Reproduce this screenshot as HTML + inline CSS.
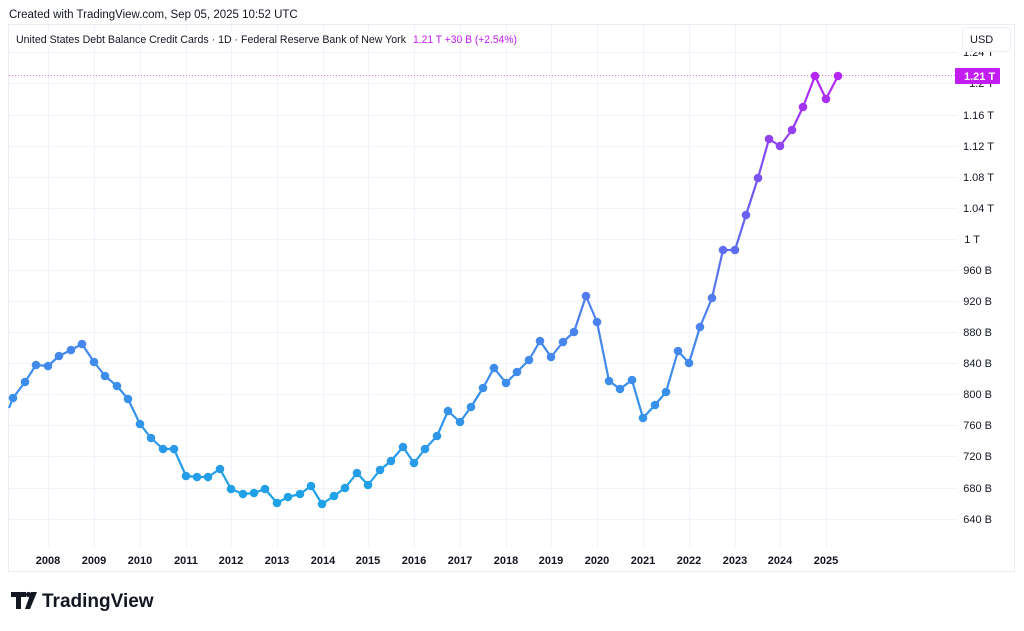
<!DOCTYPE html>
<html><head><meta charset="utf-8"><style>
body{margin:0;background:#fff;width:1024px;height:626px;overflow:hidden;font-family:"Liberation Sans",sans-serif}
</style></head><body>
<svg width="1024" height="626" xmlns="http://www.w3.org/2000/svg" font-family="Liberation Sans, sans-serif">
<defs>
<linearGradient id="g" gradientUnits="userSpaceOnUse" x1="0" y1="500" x2="0" y2="76">
<stop offset="0" stop-color="#1ea2e8"/>
<stop offset="0.45" stop-color="#4f80ee"/>
<stop offset="0.7" stop-color="#6b5ef0"/>
<stop offset="1" stop-color="#b626f2"/>
</linearGradient>
</defs>
<rect x="0" y="0" width="1024" height="626" fill="#fff"/>
<text x="9" y="18" font-size="11.5" fill="#131722">Created with TradingView.com, Sep 05, 2025 10:52 UTC</text>
<rect x="8.5" y="24.5" width="1006" height="547" fill="none" stroke="#e9ecf2"/>
<g stroke="#f0f3fa" stroke-width="1">
<line x1="9" x2="958" y1="52.5" y2="52.5"/>
<line x1="9" x2="958" y1="83.5" y2="83.5"/>
<line x1="9" x2="958" y1="115.5" y2="115.5"/>
<line x1="9" x2="958" y1="146.5" y2="146.5"/>
<line x1="9" x2="958" y1="177.5" y2="177.5"/>
<line x1="9" x2="958" y1="208.5" y2="208.5"/>
<line x1="9" x2="958" y1="239.5" y2="239.5"/>
<line x1="9" x2="958" y1="270.5" y2="270.5"/>
<line x1="9" x2="958" y1="301.5" y2="301.5"/>
<line x1="9" x2="958" y1="332.5" y2="332.5"/>
<line x1="9" x2="958" y1="363.5" y2="363.5"/>
<line x1="9" x2="958" y1="394.5" y2="394.5"/>
<line x1="9" x2="958" y1="425.5" y2="425.5"/>
<line x1="9" x2="958" y1="456.5" y2="456.5"/>
<line x1="9" x2="958" y1="488.5" y2="488.5"/>
<line x1="9" x2="958" y1="519.5" y2="519.5"/>
<line x1="48.5" x2="48.5" y1="25" y2="547"/><line x1="94.5" x2="94.5" y1="25" y2="547"/>
<line x1="140.5" x2="140.5" y1="25" y2="547"/><line x1="186.5" x2="186.5" y1="25" y2="547"/>
<line x1="231.5" x2="231.5" y1="25" y2="547"/><line x1="277.5" x2="277.5" y1="25" y2="547"/>
<line x1="323.5" x2="323.5" y1="25" y2="547"/><line x1="368.5" x2="368.5" y1="25" y2="547"/>
<line x1="414.5" x2="414.5" y1="25" y2="547"/><line x1="460.5" x2="460.5" y1="25" y2="547"/>
<line x1="506.5" x2="506.5" y1="25" y2="547"/><line x1="551.5" x2="551.5" y1="25" y2="547"/>
<line x1="597.5" x2="597.5" y1="25" y2="547"/><line x1="643.5" x2="643.5" y1="25" y2="547"/>
<line x1="689.5" x2="689.5" y1="25" y2="547"/><line x1="735.5" x2="735.5" y1="25" y2="547"/>
<line x1="780.5" x2="780.5" y1="25" y2="547"/><line x1="826.5" x2="826.5" y1="25" y2="547"/>
</g>
<line x1="9" x2="958" y1="75.5" y2="75.5" stroke="#d870f5" stroke-dasharray="1,2" stroke-width="1"/>
<polyline fill="none" stroke="url(#g)" stroke-width="2.2" stroke-linejoin="round" points="9,408 13,398 25,382 36,365 48,366 59,356 71,350 82,344 94,362 105,376 117,386 128,399 140,424 151,438 163,449 174,449 186,476 197,477 208,477 220,469 231,489 243,494 254,493 265,489 277,503 288,497 300,494 311,486 322,504 334,496 345,488 357,473 368,485 380,470 391,461 403,447 414,463 425,449 437,436 448,411 460,422 471,407 483,388 494,368 506,383 517,372 529,360 540,341 551,357 563,342 574,332 586,296 597,322 609,381 620,389 632,380 643,418 655,405 666,392 678,351 689,363 700,327 712,298 723,250 735,250 746,215 758,178 769,139 780,146 792,130 803,107 815,76 826,99 838,76"/>
<g fill="url(#g)">
<circle cx="13" cy="398" r="4.3"/><circle cx="25" cy="382" r="4.3"/><circle cx="36" cy="365" r="4.3"/><circle cx="48" cy="366" r="4.3"/><circle cx="59" cy="356" r="4.3"/><circle cx="71" cy="350" r="4.3"/><circle cx="82" cy="344" r="4.3"/><circle cx="94" cy="362" r="4.3"/><circle cx="105" cy="376" r="4.3"/><circle cx="117" cy="386" r="4.3"/><circle cx="128" cy="399" r="4.3"/><circle cx="140" cy="424" r="4.3"/><circle cx="151" cy="438" r="4.3"/><circle cx="163" cy="449" r="4.3"/><circle cx="174" cy="449" r="4.3"/><circle cx="186" cy="476" r="4.3"/><circle cx="197" cy="477" r="4.3"/><circle cx="208" cy="477" r="4.3"/><circle cx="220" cy="469" r="4.3"/><circle cx="231" cy="489" r="4.3"/><circle cx="243" cy="494" r="4.3"/><circle cx="254" cy="493" r="4.3"/><circle cx="265" cy="489" r="4.3"/><circle cx="277" cy="503" r="4.3"/><circle cx="288" cy="497" r="4.3"/><circle cx="300" cy="494" r="4.3"/><circle cx="311" cy="486" r="4.3"/><circle cx="322" cy="504" r="4.3"/><circle cx="334" cy="496" r="4.3"/><circle cx="345" cy="488" r="4.3"/><circle cx="357" cy="473" r="4.3"/><circle cx="368" cy="485" r="4.3"/><circle cx="380" cy="470" r="4.3"/><circle cx="391" cy="461" r="4.3"/><circle cx="403" cy="447" r="4.3"/><circle cx="414" cy="463" r="4.3"/><circle cx="425" cy="449" r="4.3"/><circle cx="437" cy="436" r="4.3"/><circle cx="448" cy="411" r="4.3"/><circle cx="460" cy="422" r="4.3"/><circle cx="471" cy="407" r="4.3"/><circle cx="483" cy="388" r="4.3"/><circle cx="494" cy="368" r="4.3"/><circle cx="506" cy="383" r="4.3"/><circle cx="517" cy="372" r="4.3"/><circle cx="529" cy="360" r="4.3"/><circle cx="540" cy="341" r="4.3"/><circle cx="551" cy="357" r="4.3"/><circle cx="563" cy="342" r="4.3"/><circle cx="574" cy="332" r="4.3"/><circle cx="586" cy="296" r="4.3"/><circle cx="597" cy="322" r="4.3"/><circle cx="609" cy="381" r="4.3"/><circle cx="620" cy="389" r="4.3"/><circle cx="632" cy="380" r="4.3"/><circle cx="643" cy="418" r="4.3"/><circle cx="655" cy="405" r="4.3"/><circle cx="666" cy="392" r="4.3"/><circle cx="678" cy="351" r="4.3"/><circle cx="689" cy="363" r="4.3"/><circle cx="700" cy="327" r="4.3"/><circle cx="712" cy="298" r="4.3"/><circle cx="723" cy="250" r="4.3"/><circle cx="735" cy="250" r="4.3"/><circle cx="746" cy="215" r="4.3"/><circle cx="758" cy="178" r="4.3"/><circle cx="769" cy="139" r="4.3"/><circle cx="780" cy="146" r="4.3"/><circle cx="792" cy="130" r="4.3"/><circle cx="803" cy="107" r="4.3"/><circle cx="815" cy="76" r="4.3"/><circle cx="826" cy="99" r="4.3"/><circle cx="838" cy="76" r="4.3"/>
</g>
<g font-size="11" fill="#131722" text-anchor="end">
<text x="994" y="56">1.24 T</text>
<text x="994" y="87">1.2 T</text>
<text x="994" y="119">1.16 T</text>
<text x="994" y="150">1.12 T</text>
<text x="994" y="181">1.08 T</text>
<text x="994" y="212">1.04 T</text>
<text x="980" y="243">1 T</text>
<text x="992" y="274">960 B</text>
<text x="992" y="305">920 B</text>
<text x="992" y="336">880 B</text>
<text x="992" y="367">840 B</text>
<text x="992" y="398">800 B</text>
<text x="992" y="429">760 B</text>
<text x="992" y="460">720 B</text>
<text x="992" y="492">680 B</text>
<text x="992" y="523">640 B</text>
</g>
<rect x="958" y="26" width="56" height="26" fill="#fff"/>
<rect x="962.5" y="27.5" width="48" height="24" rx="4" fill="#fff" stroke="#eceff4"/>
<text x="970" y="43" font-size="11" fill="#131722">USD</text>
<rect x="955" y="68" width="45" height="16" rx="1" fill="#c21cf0"/>
<text x="964" y="80" font-size="11" fill="#fff" font-weight="bold">1.21 T</text>
<g font-size="11" fill="#131722" text-anchor="middle" font-weight="bold">
<text x="48" y="564">2008</text><text x="94" y="564">2009</text><text x="140" y="564">2010</text><text x="186" y="564">2011</text><text x="231" y="564">2012</text><text x="277" y="564">2013</text><text x="323" y="564">2014</text><text x="368" y="564">2015</text><text x="414" y="564">2016</text><text x="460" y="564">2017</text><text x="506" y="564">2018</text><text x="551" y="564">2019</text><text x="597" y="564">2020</text><text x="643" y="564">2021</text><text x="689" y="564">2022</text><text x="735" y="564">2023</text><text x="780" y="564">2024</text><text x="826" y="564">2025</text>
</g>
<rect x="12" y="32" width="530" height="14" fill="#fff"/>
<text x="16" y="43" font-size="11" fill="#131722" textLength="390" lengthAdjust="spacingAndGlyphs">United States Debt Balance Credit Cards · 1D · Federal Reserve Bank of New York</text>
<text x="413" y="43" font-size="11" fill="#c21cf0" textLength="104" lengthAdjust="spacingAndGlyphs">1.21 T  +30 B (+2.54%)</text>
<g fill="#131722">
<path d="M11 592h15v5h-5v12h-5v-12h-5z"/>
<circle cx="28.5" cy="594.5" r="2.6"/>
<path d="M31 592h6l-7 17h-5z"/>
</g>
<text x="42" y="607" font-size="19" font-weight="bold" fill="#131722">TradingView</text>
</svg>
</body></html>
